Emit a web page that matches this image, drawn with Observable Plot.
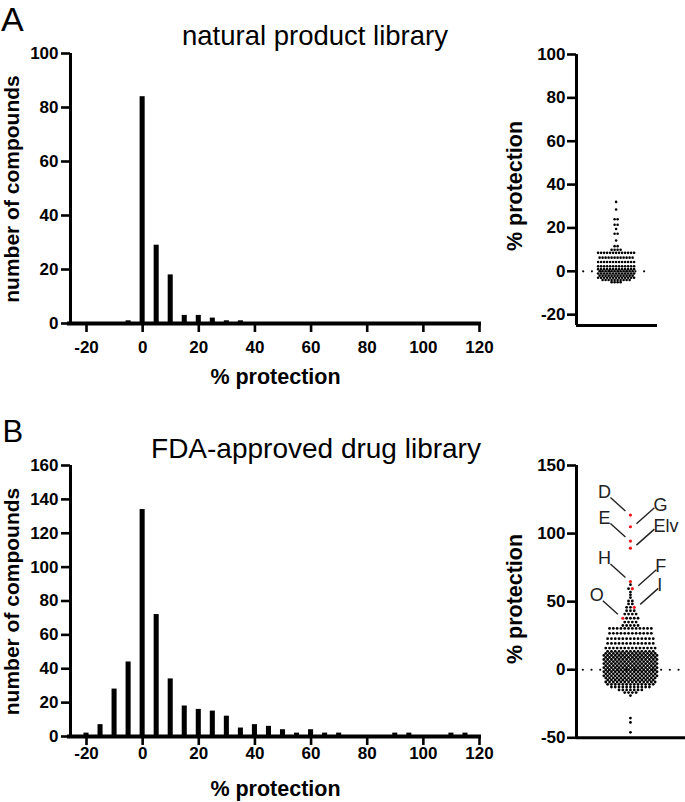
<!DOCTYPE html>
<html><head><meta charset="utf-8">
<script src="https://cdn.jsdelivr.net/npm/d3@7"></script>
<script src="https://cdn.jsdelivr.net/npm/@observablehq/plot@0.6"></script>
<style>
body{margin:0;background:#fff;}
#root{position:relative;width:685px;height:802px;overflow:hidden;font-family:"Liberation Sans",Arial,sans-serif;}
#root > svg{position:absolute;overflow:visible;}
</style></head><body><div id="root"></div>
<script>
// ---------- DATA ----------
const binCenters = [-20,-15,-10,-5,0,5,10,15,20,25,30,35,40,45,50,55,60,65,70,75,80,85,90,95,100,105,110,115];
const countsA    = [0,0,0,1,84,29,18,3,3,2,1,1,0,0,0,0,0,0,0,0,0,0,0,0,0,0,0,0];
const countsB    = [2,7,28,44,134,72,34,18,16,15,12,5,7,6,4,2,4,2,2,0,0,0,2,2,0,0,2,2];

// tick values of the axes
const histXTicks = [-20,0,20,40,60,80,100,120];
const histAYTicks = [0,20,40,60,80,100];
const histBYTicks = [0,20,40,60,80,100,120,140,160];
const swarmAYTicks = [-20,0,20,40,60,80,100];
const swarmBYTicks = [-50,0,50,100,150];

// scatter rows (value of row, number of compounds in row)
const swarmAValues = [32,28.5,24,21.5,19.5,17.3,14.2,11.6,9.9,8.5,6.3,4.3,2.3,1,0,-1,-2,-3,-4,-5];
const swarmACounts = [1,1,2,2,1,2,1,2,4,13,12,13,13,13,12,13,12,13,10,4];

const swarmBValues = [62.5,59.5,57,55,53,50.5,48.3,45.8,43.3,40.9,37.8,35,32.5,30.3,26.7,22.8,19.3,15.9,
  13.5,12,10.5,9,7.5,6,4.5,3,1.5,0,-1.5,-3,-4.5,-6,-7.5,-9,-10.7,-12.7,-14.8,-16.8,-19,-35.5,-38.7,-46];
const swarmBCounts = [1,1,1,1,1,2,2,2,3,4,4,4,5,12,12,13,13,14,
  13,14,15,14,15,14,15,14,15,14,15,14,15,14,13,14,13,11,7,4,1,1,1,1];

// highlighted compounds
const hitLabels = ["D","G","E","Elv","H","F","I","O"];
const hitValues = [113.6,105,94.5,89.3,64.8,59.5,45.8,37.8];
const hitSides  = ["left","right","left","right","left","right","right","left"];

const titleA = "natural product library";
const titleB = "FDA-approved drug library";
const histYLabel = "number of compounds";
const xLabel = "% protection";

// ---------- HELPERS ----------
const FONT = '"Liberation Sans", Arial, Helvetica, sans-serif';
const root = document.getElementById("root");
const fmt = d => String(d);
const TICK = 9;
const tickText = {fontSize: 17, fontWeight: "bold", fill: "#000", fontFamily: FONT};

function place(el, left, top){ el.style.left = left + "px"; el.style.top = top + "px"; root.appendChild(el); }

function histogram(counts, yMax, yTicks, height, mt, mb, xLabelDy){
  const data = binCenters.map((c,i)=>({c, n: counts[i]}));
  const pxX = (500 - 70 - 21) / (120 + 25.7);
  const pxY = (height - mt - mb) / yMax;
  return Plot.plot({
    width: 500, height, marginLeft: 70, marginRight: 21, marginTop: mt, marginBottom: mb,
    style: {fontFamily: FONT, background: "transparent", overflow: "visible"},
    x: {domain: [-25.7, 120], axis: null},
    y: {domain: [0, yMax], axis: null},
    marks: [
      Plot.rectY(data, {x1: d => d.c - 0.9, x2: d => d.c + 0.9, y: "n", fill: "#000"}),
      // tick marks
      Plot.ruleY(yTicks, {x1: -25.7 - TICK / pxX, x2: -25.7, stroke: "#000", strokeWidth: 2.6}),
      Plot.ruleX(histXTicks, {y1: 0, y2: -TICK / pxY, stroke: "#000", strokeWidth: 2.6}),
      // tick labels
      Plot.text(yTicks, {x: -25.7, y: d => d, text: fmt, dx: -12, textAnchor: "end", ...tickText}),
      Plot.text(histXTicks, {x: d => d, y: 0, text: fmt, dy: xLabelDy, textAnchor: "middle", ...tickText}),
      // axis lines
      Plot.ruleX([-25.7], {y1: 0, y2: yMax, stroke: "#000", strokeWidth: 3}),
      Plot.ruleY([0], {x1: -26.8, x2: 120.7, stroke: "#000", strokeWidth: 4})
    ]
  });
}

function buildPoints(values, counts, hits){
  const rows = new Map();
  values.forEach((v,i) => rows.set(v, {left: [], black: counts[i], right: []}));
  hits.forEach(h => {
    if (!rows.has(h.v)) rows.set(h.v, {left: [], black: 0, right: []});
    rows.get(h.v)[h.side].push(h);
  });
  const pts = [];
  for (const [v, r] of rows){
    const row = [...r.left.map(h => ({v, red: true, label: h.label, side: h.side}))];
    for (let k = 0; k < r.black; k++) row.push({v, red: false});
    r.right.forEach(h => row.push({v, red: true, label: h.label, side: h.side}));
    row.forEach((p, j) => { p.slot = j - (row.length - 1) / 2; pts.push(p); });
  }
  return pts;
}

function swarm({points, height, mt, mb, mr, xDom, yDom, yTicks, zeroFrom, zeroTo, r, labels}){
  const pxPerSlot = (195 - 86 - mr) / (xDom[1] - xDom[0]);
  const pxPerVal = (height - mt - mb) / (yDom[1] - yDom[0]);
  const marks = [
    Plot.ruleY([0], {x1: zeroFrom, x2: zeroTo, stroke: "#000", strokeWidth: 2.2, strokeDasharray: "0,8.7", strokeLinecap: "round"}),
    Plot.dot(points.filter(p => !p.red), {x: "slot", y: "v", r, fill: "#000", stroke: null}),
    Plot.dot(points.filter(p => p.red), {x: "slot", y: "v", r: r + 0.2, fill: "#f01818", stroke: null}),
    Plot.ruleY(yTicks, {x1: xDom[0] - TICK / pxPerSlot, x2: xDom[0], stroke: "#000", strokeWidth: 2.6}),
    Plot.text(yTicks, {x: xDom[0], y: d => d, text: fmt, dx: -11, textAnchor: "end", ...tickText}),
    Plot.ruleX([xDom[0]], {stroke: "#000", strokeWidth: 3}),
    Plot.ruleY([yDom[0]], {stroke: "#000", strokeWidth: 3})
  ];
  if (labels){
    const red = points.filter(p => p.red);
    const L = red.filter(p => p.side === "left"), R = red.filter(p => p.side === "right");
    marks.push(
      Plot.link(L, {x1: d => d.slot - 5/pxPerSlot, y1: d => d.v + 4/pxPerVal, x2: d => d.slot - 20/pxPerSlot, y2: d => d.v + 17.5/pxPerVal, stroke: "#222", strokeWidth: 1.4}),
      Plot.link(R, {x1: d => d.slot + 6/pxPerSlot, y1: d => d.v + 3/pxPerVal, x2: d => d.slot + 24/pxPerSlot, y2: d => d.v + 19/pxPerVal, stroke: "#222", strokeWidth: 1.4}),
      Plot.text(L, {x: "slot", y: "v", text: "label", dx: -26, dy: -23, textAnchor: "middle", fontSize: 18, fontWeight: "normal", fill: "#222", fontFamily: FONT}),
      Plot.text(R, {x: "slot", y: "v", text: "label", dx: 23, dy: -22, textAnchor: "start", fontSize: 18, fontWeight: "normal", fill: "#222", fontFamily: FONT})
    );
  }
  return Plot.plot({
    width: 195, height, marginLeft: 86, marginRight: mr, marginTop: mt, marginBottom: mb,
    style: {fontFamily: FONT, background: "transparent", overflow: "visible"},
    x: {domain: xDom, axis: null},
    y: {domain: yDom, axis: null},
    marks
  });
}

// ---------- PANELS ----------
place(histogram(countsA, 100, histAYTicks, 400, 53, 77, 24), 0, 0);
place(histogram(countsB, 160, histBYTicks, 402, 65, 66, 17), 0, 400);

const ptsA = buildPoints(swarmAValues, swarmACounts, []);
place(swarm({points: ptsA, height: 400, mt: 54, mb: 75, mr: 28, xDom: [-13.2, 13.8], yDom: [-25, 100], yTicks: swarmAYTicks,
  zeroFrom: -10.8, zeroTo: 12.2, r: 1.3, labels: false}), 490, 0);

const hits = hitLabels.map((label, i) => ({label, v: hitValues[i], side: hitSides[i]}));
const ptsB = buildPoints(swarmBValues, swarmBCounts, hits);
place(swarm({points: ptsB, height: 402, mt: 65, mb: 64.7, mr: 0, xDom: [-14.2, 14.5], yDom: [-50, 150], yTicks: swarmBYTicks,
  zeroFrom: -12.4, zeroTo: 14.5, r: 1.4, labels: true}), 490, 400);

// ---------- TEXT OVERLAY ----------
const ov = d3.select(root).append("svg").attr("width", 685).attr("height", 802)
  .style("left", "0px").style("top", "0px").style("font-family", FONT);
function txt(x, y, s, size, weight, anchor, rot){
  const t = ov.append("text").text(s).attr("font-size", size).attr("font-weight", weight)
    .attr("text-anchor", anchor).attr("fill", "#000");
  if (rot){ t.attr("transform", `translate(${x},${y}) rotate(-90)`).attr("dominant-baseline", "central"); }
  else t.attr("x", x).attr("y", y);
  return t;
}
txt(1, 31, "A", 34, "normal", "start");
txt(2.5, 442, "B", 31, "normal", "start");
txt(315, 44.5, titleA, 27.5, "normal", "middle");
txt(316, 458, titleB, 28, "normal", "middle");
txt(11.5, 189, histYLabel, 21, "bold", "middle", true);
txt(11.5, 601.5, histYLabel, 21, "bold", "middle", true);
txt(275.5, 384, xLabel, 21.5, "bold", "middle");
txt(275.5, 796, xLabel, 21.5, "bold", "middle");
txt(515, 186, xLabel, 21.5, "bold", "middle", true);
txt(515, 599, xLabel, 21.5, "bold", "middle", true);
</script></body></html>
